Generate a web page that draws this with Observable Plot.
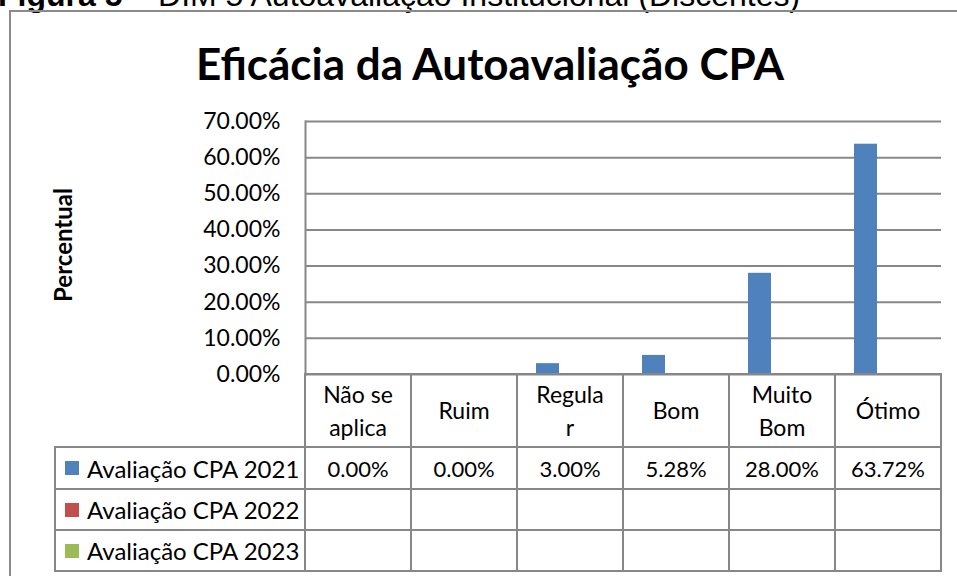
<!DOCTYPE html>
<html>
<head>
<meta charset="utf-8">
<script src="https://cdn.jsdelivr.net/npm/d3@7"></script>
<script src="https://cdn.jsdelivr.net/npm/@observablehq/plot@0.6"></script>
<style>
  html, body { margin: 0; padding: 0; background: #fff; }
  #root { position: relative; width: 957px; height: 576px; overflow: hidden; background: #fff; font-family: Lato, "Open Sans", sans-serif; color: #000; }
  #caption { position: absolute; left: -2px; top: -21px; font-family: "Liberation Sans", Arial, sans-serif; font-size: 32px; line-height: 32px; white-space: nowrap; }
  #frame { position: absolute; left: 9px; top: 10px; width: 1000px; height: 700px; border: 2px solid #8a8a8a; box-sizing: border-box; }
  #title { position: absolute; left: 0; width: 980px; top: 41px; text-align: center; font-weight: bold; font-size: 44px; line-height: 44px; white-space: nowrap; }
  #ylabel { position: absolute; left: 62px; top: 245px; transform: translate(-50%, -50%) rotate(-90deg); font-weight: bold; font-size: 24px; white-space: nowrap; }
  #chart { position: absolute; left: 0; top: 100px; }
  #table { position: absolute; left: 54px; top: 373px; display: grid; grid-template-columns: 250px repeat(5, 106px) 108px; grid-template-rows: 73px 42px 41px 43px; font-size: 22px; }
  .cell { box-sizing: border-box; border-top: 2px solid #878787; border-left: 2px solid #878787; display: flex; align-items: center; justify-content: center; text-align: center; white-space: pre-line; line-height: 33px; }
  .cell.head { font-size: 23px; }
  .cell.blank { border: none; }
  .cell.last { border-right: 2px solid #878787; }
  .cell.bottom { border-bottom: 2px solid #878787; }
  .cell.legend { justify-content: flex-start; padding-left: 9px; font-size: 24px; }
  .key { width: 14px; height: 14px; margin-right: 8px; flex: none; }
</style>
</head>
<body>
<div id="root">
  <div id="caption"><b>Figura 5</b> – DIM 5 Autoavaliação Institucional (Discentes)</div>
  <div id="frame"></div>
  <div id="title">Eficácia da Autoavaliação CPA</div>
  <div id="ylabel">Percentual</div>
  <div id="chart"></div>
  <div id="table"></div>
</div>
<script>
const categories = ["Não se aplica", "Ruim", "Regular", "Bom", "Muito Bom", "Ótimo"];
const categoryLabels = ["Não se\naplica", "Ruim", "Regula\nr", "Bom", "Muito\nBom", "Ótimo"];
const series = ["Avaliação CPA 2021", "Avaliação CPA 2022", "Avaliação CPA 2023"];
const seriesColors = ["#4F81BD", "#C0504D", "#9BBB59"];
const values2021 = [0.0, 0.0, 0.03, 0.0528, 0.28, 0.6372];
const values2022 = [null, null, null, null, null, null];
const values2023 = [null, null, null, null, null, null];
const yTicks = [0, 0.1, 0.2, 0.3, 0.4, 0.5, 0.6, 0.7];

const seriesValues = [values2021, values2022, values2023];
const data = [];
series.forEach((s, i) => categories.forEach((c, j) => {
  const v = seriesValues[i][j];
  if (v != null) data.push({series: s, category: c, value: v});
}));

const pct = d3.format(".2%");
const gridColor = "#878787";

const chart = Plot.plot({
  width: 957,
  height: 290,
  marginTop: 21,
  marginBottom: 16,
  marginLeft: 305,
  marginRight: 16,
  style: {fontFamily: "Lato, 'Open Sans', sans-serif", fontSize: "23px", color: "#000", background: "transparent"},
  fx: {domain: categories, padding: 0, axis: null, label: null},
  x: {domain: series, paddingInner: 0, paddingOuter: 0.75, axis: null},
  y: {domain: [0, 0.7], ticks: yTicks, tickFormat: pct, tickSize: 0, tickPadding: 25, label: null},
  color: {domain: series, range: seriesColors},
  marks: [
    Plot.ruleY(yTicks, {stroke: gridColor, strokeWidth: 2}),
    Plot.barY(data, {fx: "category", x: "series", y: "value", fill: "series"}),
    Plot.frame({anchor: "left", facet: "super", stroke: gridColor, strokeWidth: 2})
  ]
});
document.getElementById("chart").appendChild(chart);

// data table
const table = document.getElementById("table");
function cell(cls, content) {
  const d = document.createElement("div");
  d.className = "cell " + cls;
  if (typeof content === "string") d.textContent = content; else if (content) d.appendChild(content);
  table.appendChild(d);
  return d;
}
cell("blank", "");
categoryLabels.forEach((lab, j) => cell("head" + (j === categories.length - 1 ? " last" : ""), lab));
series.forEach((s, i) => {
  const isBottom = i === series.length - 1 ? " bottom" : "";
  const lg = cell("legend" + isBottom, null);
  const key = document.createElement("span");
  key.className = "key";
  key.style.background = seriesColors[i];
  lg.appendChild(key);
  lg.appendChild(document.createTextNode(s));
  categories.forEach((c, j) => {
    const v = seriesValues[i][j];
    cell((j === categories.length - 1 ? "last" : "") + isBottom, v == null ? "" : pct(v));
  });
});
</script>
</body>
</html>
